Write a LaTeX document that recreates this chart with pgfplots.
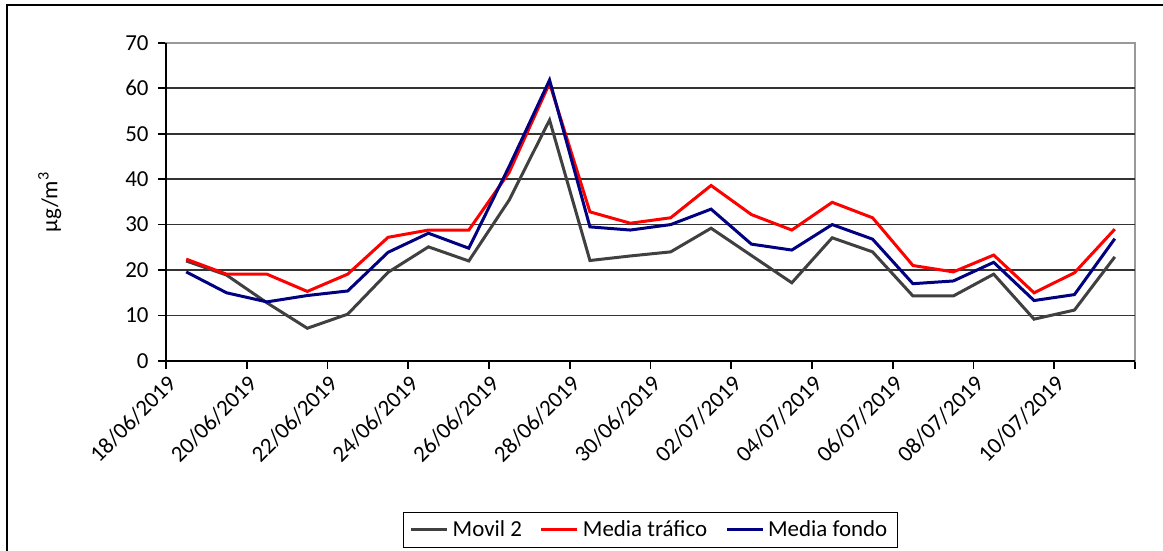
\documentclass[border=0pt]{standalone}
\usepackage{pgfplots}
\pgfplotsset{compat=1.18}
\usepackage{fontspec}
\setmainfont{Carlito}
\definecolor{cgray}{HTML}{404040}
\definecolor{cred}{HTML}{FF0000}
\definecolor{cblue}{HTML}{000080}
\definecolor{gridc}{HTML}{333333}
\definecolor{borderc}{HTML}{999999}

\pgfplotstableread{
x movil trafico fondo
0.5 22.0 22.4 19.6
1.5 18.9 19.1 15.0
2.5 12.8 19.1 13.0
3.5 7.2 15.3 14.4
4.5 10.3 19.1 15.4
5.5 19.5 27.2 23.9
6.5 25.1 28.8 28.1
7.5 22.0 28.8 24.8
8.5 35.4 41.5 42.8
9.5 53.0 61.1 61.8
10.5 22.1 32.8 29.5
11.5 23.1 30.3 28.8
12.5 24.0 31.5 30.0
13.5 29.2 38.6 33.4
14.5 23.2 32.2 25.7
15.5 17.2 28.8 24.4
16.5 27.1 34.9 30.0
17.5 24.0 31.5 26.8
18.5 14.3 21.0 17.0
19.5 14.3 19.6 17.6
20.5 19.1 23.3 21.7
21.5 9.2 15.0 13.3
22.5 11.2 19.4 14.6
23.5 22.9 29.0 26.9
}\datatable

\begin{document}
\begin{tikzpicture}
\path[use as bounding box] (0,0) rectangle (581.5bp,275.5bp);
\draw[black, line width=1bp] (3.5bp,-3bp) -- (3.5bp,273bp) -- (590bp,273bp);
\begin{axis}[
  at={(83bp,95bp)}, anchor=south west,
  width=484.5bp, height=159.15bp, scale only axis,
  xmin=0, xmax=24, ymin=0, ymax=70,
  xtick={0,2,...,24},
  xticklabels={18/06/2019,20/06/2019,22/06/2019,24/06/2019,26/06/2019,28/06/2019,30/06/2019,02/07/2019,04/07/2019,06/07/2019,08/07/2019,10/07/2019,},
  ytick={0,10,...,70},
  extra y ticks={10,20,...,60},
  extra y tick labels={},
  extra y tick style={ymajorgrids=true, major tick length=0pt},
  grid style={gridc, line width=0.9bp},
  tick pos=left, tick align=outside,
  major tick length=4bp,
  tick style={black, line width=0.9bp},
  axis line style={borderc, line width=1bp},
  /pgf/number format/assume math mode=true,
  tick label style={font=\fontsize{11.5}{13}\selectfont},
  xticklabel style={rotate=45, anchor=north east, inner sep=1.5bp},
  yticklabel style={inner sep=4.5bp},
  ylabel={µg/m\textsuperscript{3}},
  ylabel style={font=\fontsize{11.5}{13}\selectfont, at={(axis description cs:-0.12,0.5)}, anchor=center, rotate=0},
  legend columns=3,
  legend style={at={(axis description cs:0.5,-0.474)}, anchor=north, draw=black, line width=0.6bp,
    font=\fontsize{11.5}{13}\selectfont, inner xsep=3bp, inner ysep=2bp,
    /tikz/every even column/.append style={column sep=7bp}},
  legend image code/.code={\draw[#1, line width=1.5bp] (0bp,0bp) -- (18bp,0bp);},
  clip=false,
]
\addplot[cgray, line width=1.5bp] table[x=x, y=movil] {\datatable};
\addlegendentry{Movil 2}
\addplot[cred, line width=1.5bp] table[x=x, y=trafico] {\datatable};
\addlegendentry{Media tráfico}
\addplot[cblue, line width=1.5bp] table[x=x, y=fondo] {\datatable};
\addlegendentry{Media fondo}
\draw[black, line width=1bp] (rel axis cs:0,1) -- (rel axis cs:0,0) -- (rel axis cs:1,0);
\end{axis}
\end{tikzpicture}
\end{document}
